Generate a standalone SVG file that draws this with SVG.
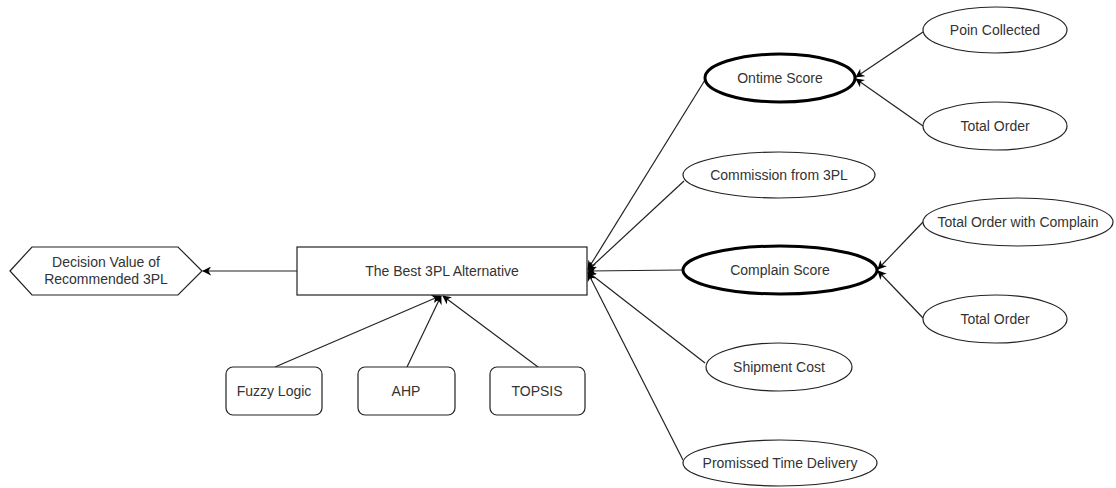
<svg xmlns="http://www.w3.org/2000/svg" width="1116" height="488" viewBox="0 0 1116 488">
<style>
.s{fill:#fff;stroke:#222;stroke-width:1.2}
.b{fill:#fff;stroke:#000;stroke-width:3}
.t{font-family:"Liberation Sans",Arial,sans-serif;font-size:14px;fill:#333;text-anchor:middle;dominant-baseline:central}
.c{stroke:#222;stroke-width:1.2;fill:none;marker-end:url(#a)}
</style>
<defs>
<marker id="a" viewBox="0 0 10 10" refX="9" refY="5" markerWidth="9" markerHeight="9" markerUnits="userSpaceOnUse" orient="auto">
<path d="M0,0 L10,5 L0,10 L3,5 Z" fill="#000"/>
</marker>
</defs>
<g id="connectors">
<line class="c" x1="297" y1="271" x2="203" y2="271"/>
<line class="c" x1="275" y1="367" x2="440" y2="296"/>
<line class="c" x1="407" y1="367" x2="441" y2="296"/>
<line class="c" x1="538" y1="367" x2="443" y2="296"/>
<line class="c" x1="705" y1="80" x2="588" y2="269"/>
<line class="c" x1="684" y1="181" x2="588" y2="270"/>
<line class="c" x1="683" y1="270" x2="588" y2="271"/>
<line class="c" x1="705" y1="363" x2="588" y2="272"/>
<line class="c" x1="683" y1="460" x2="588" y2="273"/>
<line class="c" x1="923" y1="32" x2="856" y2="77"/>
<line class="c" x1="923" y1="126" x2="856" y2="79"/>
<line class="c" x1="923" y1="222" x2="878" y2="269"/>
<line class="c" x1="923" y1="318" x2="878" y2="271"/>
</g>
<g id="decision">
<polygon class="s" points="10,271 32,247 178,247 202,271 178,295 32,295"/>
<text class="t" x="106" y="262">Decision Value of</text>
<text class="t" x="106" y="279">Recommended 3PL</text>
</g>
<g id="best">
<rect class="s" x="297" y="247" width="290" height="48"/>
<text class="t" x="442" y="271">The Best 3PL Alternative</text>
</g>
<g id="fuzzy">
<rect class="s" x="226" y="367" width="96" height="48" rx="7"/>
<text class="t" x="274" y="391">Fuzzy Logic</text>
</g>
<g id="ahp">
<rect class="s" x="358" y="367" width="97" height="48" rx="7"/>
<text class="t" x="406" y="391">AHP</text>
</g>
<g id="topsis">
<rect class="s" x="490" y="367" width="95" height="48" rx="7"/>
<text class="t" x="537" y="391">TOPSIS</text>
</g>
<g id="ontime">
<ellipse class="b" cx="780" cy="78" rx="75" ry="24"/>
<text class="t" x="780" y="78">Ontime Score</text>
</g>
<g id="poin">
<ellipse class="s" cx="995" cy="30" rx="72" ry="23"/>
<text class="t" x="995" y="30">Poin Collected</text>
</g>
<g id="total1">
<ellipse class="s" cx="995" cy="126" rx="72" ry="24"/>
<text class="t" x="995" y="126">Total Order</text>
</g>
<g id="commission">
<ellipse class="s" cx="779" cy="175" rx="96" ry="23"/>
<text class="t" x="779" y="175">Commission from 3PL</text>
</g>
<g id="complain">
<ellipse class="b" cx="780" cy="270" rx="97" ry="24"/>
<text class="t" x="780" y="270">Complain Score</text>
</g>
<g id="totalcomplain">
<ellipse class="s" cx="1018" cy="222" rx="95" ry="24"/>
<text class="t" x="1018" y="222">Total Order with Complain</text>
</g>
<g id="total2">
<ellipse class="s" cx="995" cy="319" rx="72" ry="24"/>
<text class="t" x="995" y="319">Total Order</text>
</g>
<g id="shipment">
<ellipse class="s" cx="779" cy="367" rx="73" ry="24"/>
<text class="t" x="779" y="367">Shipment Cost</text>
</g>
<g id="promissed">
<ellipse class="s" cx="780" cy="463" rx="97" ry="23"/>
<text class="t" x="780" y="463">Promissed Time Delivery</text>
</g>
</svg>
